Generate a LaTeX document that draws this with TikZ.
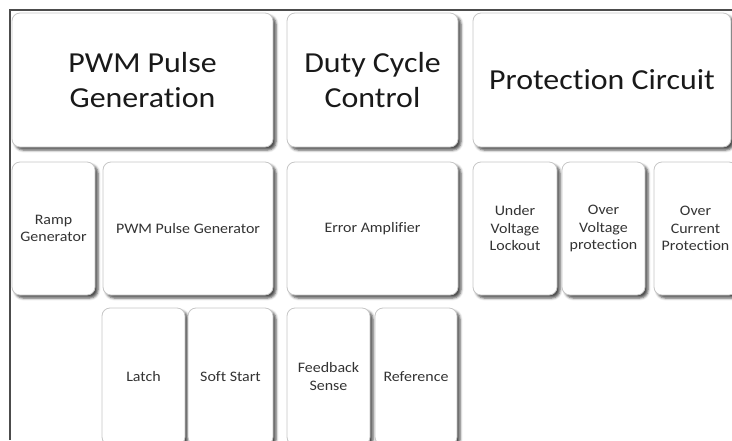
\documentclass[tikz,border=0pt]{standalone}
\usepackage{fontspec}
\setmainfont{Carlito}[FakeStretch=1.1, Ligatures=NoCommon]
\usepackage{tikz}
\usetikzlibrary{shadows.blur}

\tikzset{
    block/.style={draw=gray!45, line width=0.8pt, fill=white, rounded corners=8pt,
        align=center, inner sep=0pt,
        blur shadow={shadow xshift=3pt, shadow yshift=-3pt,
            shadow blur radius=2.5pt, shadow opacity=70}},
    headbox/.style={block, minimum height=134pt, text=black!90,
        font=\fontsize{29}{35.5}\selectfont},
    partbox/.style={block, minimum height=133pt, text=black!80,
        font=\fontsize{14.5}{17.5}\selectfont},
    lowbox/.style={partbox, minimum height=137pt}
}

\begin{document}
\begin{tikzpicture}[x=1pt, y=-1pt]
    \useasboundingbox (0,0) rectangle (732,440);
    \clip (0,0) rectangle (732,440);

    % Frame
    \draw[line width=1.5pt, black!70] (10,440) -- (10,10) -- (732,10);

    % Main blocks
    \node[headbox, minimum width=261pt] (pwm) at (142.5,80) {PWM Pulse\\Generation};
    \node[headbox, minimum width=171pt] (duty) at (372.5,80) {Duty Cycle\\Control};
    \node[headbox, minimum width=258pt] (prot) at (602,80) {Protection Circuit};

    % Sub blocks
    \node[partbox, minimum width=83pt] (ramp) at (53.5,228.5) {Ramp\\Generator};
    \node[partbox, minimum width=170pt] (pwmgen) at (188,228.5) {PWM Pulse Generator};
    \node[partbox, minimum width=171pt] (erramp) at (372.5,228.5) {Error Amplifier};
    \node[partbox, minimum width=84pt] (uvlo) at (515,228.5) {Under\\Voltage\\Lockout};
    \node[partbox, minimum width=83pt] (ovp) at (603.5,228.5) {Over\\Voltage\\protection};
    \node[partbox, minimum width=83pt] (ocp) at (695.5,228.5) {Over\\Current\\Protection};

    % Bottom row
    \node[lowbox, minimum width=83pt] (latch) at (143.5,376.5) {Latch};
    \node[lowbox, minimum width=85pt] (soft) at (230.5,376.5) {Soft Start};
    \node[lowbox, minimum width=83pt] (fbsense) at (328.5,376.5) {Feedback\\Sense};
    \node[lowbox, minimum width=82pt] (ref) at (416,376.5) {Reference};
\end{tikzpicture}
\end{document}
